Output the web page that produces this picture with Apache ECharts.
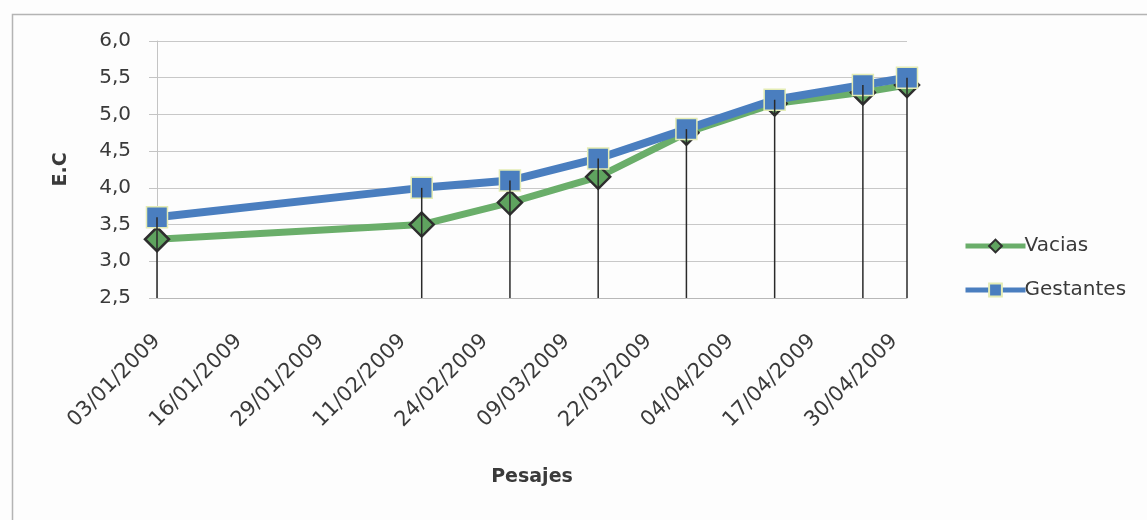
<!DOCTYPE html>
<html>
<head>
<meta charset="utf-8">
<script src="https://cdn.jsdelivr.net/npm/echarts@6/dist/echarts.min.js"></script>
<style>
html,body{margin:0;padding:0;background:#fdfdfd;}
#chart{width:1147px;height:520px;}
</style>
</head>
<body>
<div id="chart"></div>
<script>
// Data
const pesajes = ['03/01/2009','14/02/2009','28/02/2009','14/03/2009','28/03/2009','11/04/2009','25/04/2009','02/05/2009'];
const vacias = [3.3, 3.5, 3.8, 4.15, 4.75, 5.15, 5.3, 5.4];
const gestantes = [3.6, 4.0, 4.1, 4.4, 4.8, 5.2, 5.4, 5.5];
const axisStartDate = '03/01/2009';
const axisEndDate = '02/05/2009';
const xTickStepDays = 13;
const yMin = 2.5, yMax = 6.0, yStep = 0.5;

function parseDMY(s){ const p = s.split('/').map(Number); return Date.UTC(p[2], p[1]-1, p[0]); }
const DAY = 86400000;
const t0 = parseDMY(axisStartDate);
function dayOf(s){ return Math.round((parseDMY(s) - t0) / DAY); }
function fmtDay(d){
  const dt = new Date(t0 + d * DAY);
  const dd = String(dt.getUTCDate()).padStart(2,'0');
  const mm = String(dt.getUTCMonth()+1).padStart(2,'0');
  return dd + '/' + mm + '/' + dt.getUTCFullYear();
}
const xs = pesajes.map(dayOf);
const vaciasData = xs.map((x,i)=>[x, vacias[i]]);
const gestantesData = xs.map((x,i)=>[x, gestantes[i]]);
const dropData = xs.map((x,i)=>[x, Math.max(vacias[i], gestantes[i])]);

const FONT = '"DejaVu Sans", sans-serif';
const TXT = '#3a3a3a';

const chart = echarts.init(document.getElementById('chart'), null, {renderer:'canvas'});
chart.setOption({
  animation: false,
  backgroundColor: '#fdfdfd',
  graphic: [{
    type: 'rect', left: 10, top: 12, z: -1,
    shape: {width: 1160, height: 540},
    style: {fill: 'none', stroke: '#b4b4b4', lineWidth: 1.5}
  }],
  grid: {left: 157, right: 240, top: 41, bottom: 222},
  legend: {
    orient: 'vertical', left: 958, top: 231, itemGap: 24,
    itemWidth: 60, itemHeight: 16,
    data: [
      {name: 'Vacias', lineStyle: {width: 5, color: '#6aae6a'}},
      {name: 'Gestantes', lineStyle: {width: 5, color: '#4a7ebf'}}
    ],
    textStyle: {fontFamily: FONT, fontSize: 20, color: TXT, padding: [0,0,0,-6]}
  },
  xAxis: {
    type: 'value', min: 0, max: dayOf(axisEndDate), interval: xTickStepDays,
    name: 'Pesajes', nameLocation: 'middle', nameGap: 170,
    nameTextStyle: {fontFamily: FONT, fontSize: 19, fontWeight: 'bold', color: TXT},
    axisLine: {show: true, lineStyle: {color: '#b8b8b8', width: 1}},
    axisTick: {show: false},
    splitLine: {show: false},
    axisLabel: {
      rotate: 45, margin: 40, fontFamily: FONT, fontSize: 21, color: TXT,
      formatter: v => (v % xTickStepDays === 0) ? fmtDay(v) : ''
    }
  },
  yAxis: {
    type: 'value', min: yMin, max: yMax, interval: yStep,
    name: 'E.C', nameLocation: 'middle', nameGap: 86, nameRotate: 90,
    nameTextStyle: {fontFamily: FONT, fontSize: 19, fontWeight: 'bold', color: TXT},
    axisLine: {show: true, lineStyle: {color: '#c4c4c4', width: 1}},
    axisTick: {show: true, length: 8, lineStyle: {color: '#c4c4c4'}},
    splitLine: {show: true, lineStyle: {color: '#c8c8c8', width: 1}},
    axisLabel: {
      margin: 26, fontFamily: FONT, fontSize: 20, color: TXT,
      formatter: v => v.toFixed(1).replace('.', ',')
    }
  },
  series: [
    {
      name: 'Vacias', type: 'line', data: vaciasData, z: 2,
      symbol: 'diamond', symbolSize: 24,
      lineStyle: {color: '#6aae6a', width: 7},
      itemStyle: {color: '#5fa35f', borderColor: '#2e2e2e', borderWidth: 2.5}
    },
    {
      name: 'Gestantes', type: 'line', data: gestantesData, z: 3,
      symbol: 'rect', symbolSize: 21,
      lineStyle: {color: '#4a7ebf', width: 8},
      itemStyle: {color: '#4a7ebf', borderColor: '#e4ecb4', borderWidth: 1.5}
    },
    {
      name: 'drop', type: 'custom', data: dropData, z: 10, silent: true,
      renderItem: function(params, api){
        const top = api.coord([api.value(0), api.value(1)]);
        const bot = api.coord([api.value(0), yMin]);
        return {type: 'line', shape: {x1: top[0], y1: top[1], x2: bot[0], y2: bot[1]},
                style: {stroke: '#2a2a2a', lineWidth: 1.5}};
      }
    }
  ]
});
</script>
</body>
</html>
